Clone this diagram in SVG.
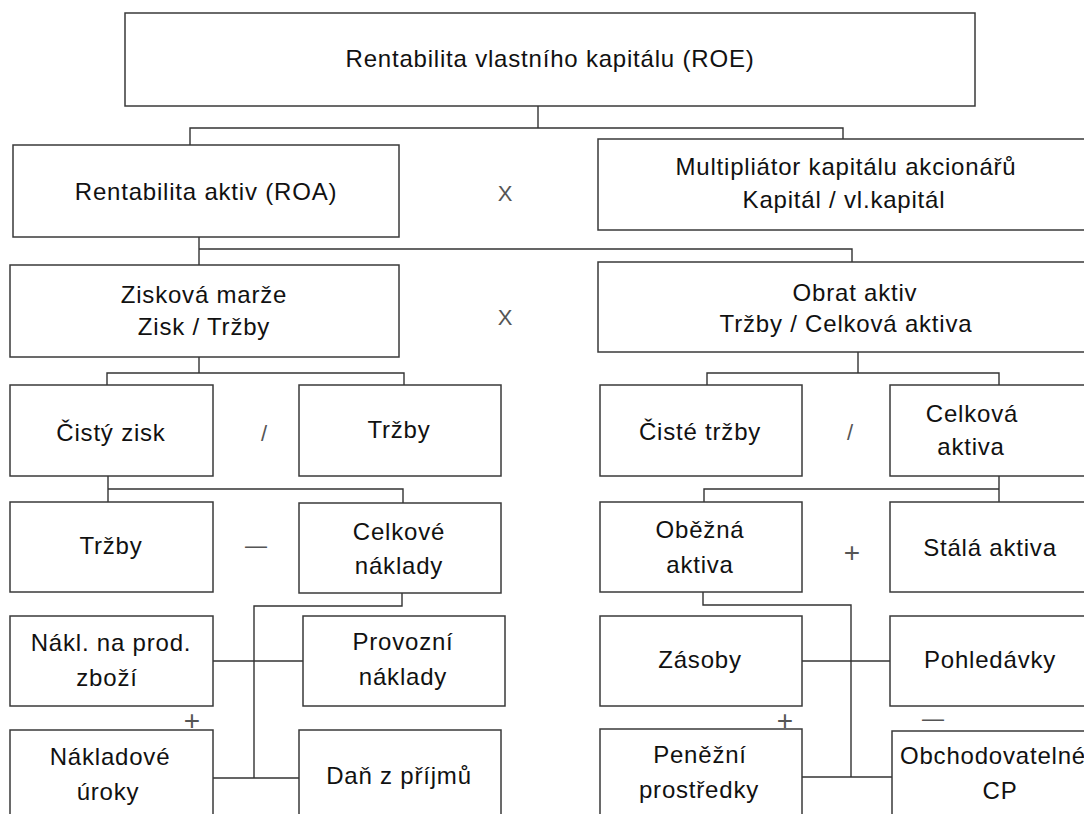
<svg xmlns="http://www.w3.org/2000/svg" width="1084" height="814" viewBox="0 0 1084 814">
<style>
.box{fill:#fff;stroke:#3a3a3a;stroke-width:1.5}
.t{font-family:"Liberation Sans",Arial,sans-serif;font-size:24px;letter-spacing:0.8px;fill:#111;text-anchor:middle}
.op{font-family:"Liberation Sans",Arial,sans-serif;fill:#555;text-anchor:middle}
.c{fill:none;stroke:#333;stroke-width:1.4}
</style>
<rect width="1084" height="814" fill="#fff"/>
<g id="connectors">
<path class="c" d="M538,106 V128 M190,145 V128 H843 V139"/>
<path class="c" d="M199,237 V265 M199,249 H852 V262"/>
<path class="c" d="M199,357 V373 M107,385 V373 H404 V385"/>
<path class="c" d="M858,352 V373 M707,385 V373 H999 V385"/>
<path class="c" d="M108,476 V502 M108,489 H403 V503"/>
<path class="c" d="M999,476 V502 M999,489 H704 V502"/>
<path class="c" d="M402,593 V606 H254 V778 M213,661 H303 M213,778 H299"/>
<path class="c" d="M703,592 V605 H851 V777 M802,661 H890 M802,777 H893"/>
</g>
<g id="operators">
<text class="op" x="505" y="201" font-size="22" fill="#777">X</text>
<text class="op" x="505" y="325" font-size="22" fill="#777">X</text>
<text class="op" x="264" y="441" font-size="22">/</text>
<text class="op" x="850" y="440" font-size="22">/</text>
<text class="op" x="256" y="553" font-size="22">—</text>
<text class="op" x="933" y="726" font-size="22">—</text>
<text class="op" x="852" y="562" font-size="28">+</text>
<text class="op" x="192" y="730" font-size="28">+</text>
<text class="op" x="785" y="730" font-size="28">+</text>
</g>
<g id="roe"><rect class="box" x="125" y="13" width="850" height="93"/><text class="t" x="550" y="67">Rentabilita vlastního kapitálu (ROE)</text></g>
<g id="roa"><rect class="box" x="13" y="145" width="386" height="92"/><text class="t" x="206" y="200">Rentabilita aktiv (ROA)</text></g>
<g id="multiplikator"><rect class="box" x="598" y="139" width="500" height="91"/><text class="t" x="846" y="175">Multipliátor kapitálu akcionářů</text><text class="t" x="844" y="208">Kapitál / vl.kapitál</text></g>
<g id="ziskova-marze"><rect class="box" x="10" y="265" width="389" height="92"/><text class="t" x="204" y="303">Zisková marže</text><text class="t" x="204" y="335">Zisk / Tržby</text></g>
<g id="obrat-aktiv"><rect class="box" x="598" y="262" width="500" height="90"/><text class="t" x="855" y="301">Obrat aktiv</text><text class="t" x="846" y="332">Tržby / Celková aktiva</text></g>
<g id="cisty-zisk"><rect class="box" x="10" y="385" width="203" height="91"/><text class="t" x="111" y="441">Čistý zisk</text></g>
<g id="trzby1"><rect class="box" x="299" y="385" width="202" height="91"/><text class="t" x="399" y="438">Tržby</text></g>
<g id="ciste-trzby"><rect class="box" x="600" y="385" width="202" height="91"/><text class="t" x="700" y="440">Čisté tržby</text></g>
<g id="celkova-aktiva"><rect class="box" x="890" y="385" width="210" height="91"/><text class="t" x="972" y="422">Celková</text><text class="t" x="971" y="455">aktiva</text></g>
<g id="trzby2"><rect class="box" x="10" y="502" width="203" height="90"/><text class="t" x="111" y="554">Tržby</text></g>
<g id="celkove-naklady"><rect class="box" x="299" y="503" width="202" height="90"/><text class="t" x="399" y="540">Celkové</text><text class="t" x="399" y="574">náklady</text></g>
<g id="obezna-aktiva"><rect class="box" x="600" y="502" width="202" height="90"/><text class="t" x="700" y="538">Oběžná</text><text class="t" x="700" y="573">aktiva</text></g>
<g id="stala-aktiva"><rect class="box" x="890" y="502" width="210" height="90"/><text class="t" x="990" y="556">Stálá aktiva</text></g>
<g id="nakl-zbozi"><rect class="box" x="10" y="616" width="203" height="90"/><text class="t" x="111" y="651">Nákl. na prod.</text><text class="t" x="107" y="686">zboží</text></g>
<g id="provozni-naklady"><rect class="box" x="303" y="616" width="202" height="90"/><text class="t" x="403" y="650">Provozní</text><text class="t" x="403" y="685">náklady</text></g>
<g id="zasoby"><rect class="box" x="600" y="616" width="202" height="90"/><text class="t" x="700" y="668">Zásoby</text></g>
<g id="pohledavky"><rect class="box" x="890" y="616" width="210" height="90"/><text class="t" x="990" y="668">Pohledávky</text></g>
<g id="nakladove-uroky"><rect class="box" x="10" y="730" width="203" height="100"/><text class="t" x="110" y="765">Nákladové</text><text class="t" x="108" y="800">úroky</text></g>
<g id="dan"><rect class="box" x="299" y="730" width="202" height="100"/><text class="t" x="399" y="784">Daň z příjmů</text></g>
<g id="penezni-prostredky"><rect class="box" x="600" y="729" width="202" height="100"/><text class="t" x="700" y="763">Peněžní</text><text class="t" x="699" y="798">prostředky</text></g>
<g id="obchodovatelne-cp"><rect class="box" x="892" y="731" width="210" height="100"/><text class="t" x="993" y="764">Obchodovatelné</text><text class="t" x="1000" y="799">CP</text></g>
</svg>
